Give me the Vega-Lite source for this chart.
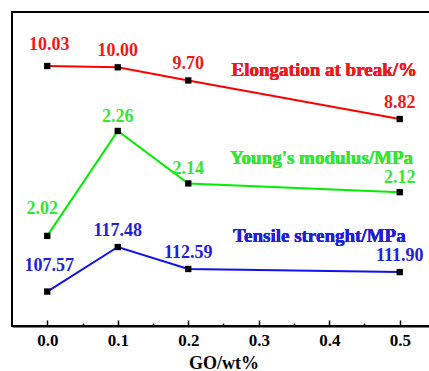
{
  "$schema": "https://vega.github.io/schema/vega-lite/v6.json",
  "width": 423,
  "height": 314,
  "autosize": {"type": "none"},
  "padding": {"left": 12, "top": 12, "right": 0, "bottom": 45},
  "background": "white",
  "config": {
    "view": {"stroke": "black", "strokeWidth": 2},
    "font": "Liberation Serif",
    "text": {"font": "Liberation Serif", "fontWeight": "bold"}
  },
  "data": {
    "values": [
      {"series": "Elongation", "go": 0.0, "value": 10.03},
      {"series": "Elongation", "go": 0.1, "value": 10.00},
      {"series": "Elongation", "go": 0.2, "value": 9.70},
      {"series": "Elongation", "go": 0.5, "value": 8.82},
      {"series": "Young", "go": 0.0, "value": 2.02},
      {"series": "Young", "go": 0.1, "value": 2.26},
      {"series": "Young", "go": 0.2, "value": 2.14},
      {"series": "Young", "go": 0.5, "value": 2.12},
      {"series": "Tensile", "go": 0.0, "value": 107.57},
      {"series": "Tensile", "go": 0.1, "value": 117.48},
      {"series": "Tensile", "go": 0.2, "value": 112.59},
      {"series": "Tensile", "go": 0.5, "value": 111.90}
    ]
  },
  "encoding": {
    "x": {
      "field": "go",
      "type": "quantitative",
      "scale": {"domain": [-0.05, 0.55], "nice": false, "zero": false},
      "axis": {
        "title": "GO/wt%",
        "titleFont": "Liberation Serif",
        "titleFontSize": 18,
        "titleFontWeight": "bold",
        "titleColor": "black",
        "titlePadding": 6,
        "values": [0, 0.05, 0.1, 0.15, 0.2, 0.25, 0.3, 0.35, 0.4, 0.45, 0.5],
        "labelExpr": "round(datum.value*20) % 2 == 1 ? '' : format(datum.value, '.1f')",
        "labelFont": "Liberation Serif",
        "labelFontSize": 17,
        "labelFontWeight": "bold",
        "labelColor": "black",
        "labelPadding": 12,
        "tickSize": {"condition": {"test": "round(datum.value*20) % 2 == 1", "value": -3}, "value": -6},
        "tickColor": "black",
        "tickWidth": 1.5,
        "domainColor": "black",
        "domainWidth": 2,
        "grid": false
      }
    }
  },
  "resolve": {"scale": {"y": "independent"}},
  "layer": [
    {
      "transform": [{"filter": "datum.series == 'Elongation'"}],
      "encoding": {
        "y": {"field": "value", "type": "quantitative", "scale": {"domain": [4.094, 11.263], "nice": false, "zero": false}, "axis": null}
      },
      "layer": [
        {"mark": {"type": "line", "color": "#ff0000", "strokeWidth": 2}},
        {"mark": {"type": "square", "color": "black", "opacity": 1, "filled": true, "size": 40}},
        {"transform": [{"filter": "datum.go > 0"}], "mark": {"type": "text", "color": "#f01818", "fontSize": 18, "dy": -16}, "encoding": {"text": {"field": "value", "type": "quantitative", "format": ".2f"}}},
        {"transform": [{"filter": "datum.go == 0"}], "mark": {"type": "text", "color": "#f01818", "fontSize": 18, "dy": -21, "dx": 2}, "encoding": {"text": {"field": "value", "type": "quantitative", "format": ".2f"}}},
        {"mark": {"type": "text", "color": "#f01818", "fontSize": 19, "align": "center", "baseline": "middle"}, "encoding": {"x": {"datum": 0.393}, "y": {"datum": 9.94}, "text": {"value": "Elongation at break/%"}}}
      ]
    },
    {
      "transform": [{"filter": "datum.series == 'Young'"}],
      "encoding": {
        "y": {"field": "value", "type": "quantitative", "scale": {"domain": [1.814, 2.532], "nice": false, "zero": false}, "axis": null}
      },
      "layer": [
        {"mark": {"type": "line", "color": "#00ee00", "strokeWidth": 2}},
        {"mark": {"type": "square", "color": "black", "opacity": 1, "filled": true, "size": 40}},
        {"transform": [{"filter": "datum.go > 0"}], "mark": {"type": "text", "color": "#33e633", "fontSize": 18, "dy": -14}, "encoding": {"text": {"field": "value", "type": "quantitative", "format": ".2f"}}},
        {"transform": [{"filter": "datum.go == 0"}], "mark": {"type": "text", "color": "#33e633", "fontSize": 18, "dy": -27, "dx": -5}, "encoding": {"text": {"field": "value", "type": "quantitative", "format": ".2f"}}},
        {"mark": {"type": "text", "color": "#33e633", "fontSize": 19, "align": "center", "baseline": "middle"}, "encoding": {"x": {"datum": 0.389}, "y": {"datum": 2.198}, "text": {"value": "Young's modulus/MPa"}}}
      ]
    },
    {
      "transform": [{"filter": "datum.series == 'Tensile'"}],
      "encoding": {
        "y": {"field": "value", "type": "quantitative", "scale": {"domain": [99.9, 169.8], "nice": false, "zero": false}, "axis": null}
      },
      "layer": [
        {"mark": {"type": "line", "color": "#1010f0", "strokeWidth": 2}},
        {"mark": {"type": "square", "color": "black", "opacity": 1, "filled": true, "size": 40}},
        {"transform": [{"filter": "datum.go > 0"}], "mark": {"type": "text", "color": "#2020d8", "fontSize": 18, "dy": -16}, "encoding": {"text": {"field": "value", "type": "quantitative", "format": ".2f"}}},
        {"transform": [{"filter": "datum.go == 0"}], "mark": {"type": "text", "color": "#2020d8", "fontSize": 18, "dy": -26, "dx": 2}, "encoding": {"text": {"field": "value", "type": "quantitative", "format": ".2f"}}},
        {"mark": {"type": "text", "color": "#2020d8", "fontSize": 19, "align": "center", "baseline": "middle"}, "encoding": {"x": {"datum": 0.386}, "y": {"datum": 119.9}, "text": {"value": "Tensile strenght/MPa"}}}
      ]
    }
  ]
}
